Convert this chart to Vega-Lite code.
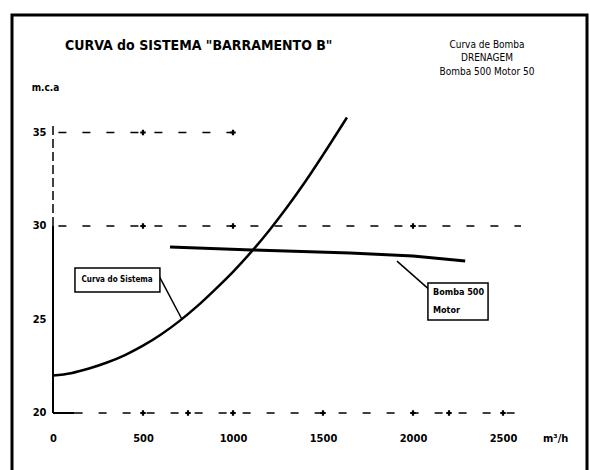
{
  "$schema": "https://vega.github.io/schema/vega-lite/v6.json",
  "width": 575,
  "height": 458,
  "autosize": {"type": "none"},
  "padding": {"left": 12, "top": 15, "right": 3, "bottom": 0},
  "background": "white",
  "config": {
    "view": {"stroke": "black", "strokeWidth": 3},
    "font": "Liberation Sans Narrow, DejaVu Sans Condensed, Liberation Sans"
  },
  "title": {
    "text": "CURVA do SISTEMA \"BARRAMENTO B\"",
    "anchor": "start",
    "frame": "group",
    "offset": -49,
    "dx": 53,
    "baseline": "alphabetic",
    "fontSize": 14,
    "fontWeight": "bold",
    "color": "black"
  },
  "encoding": {
    "x": {
      "field": "q",
      "type": "quantitative",
      "scale": {"domain": [-227.8, 2966.7], "nice": false, "zero": false},
      "axis": {
        "orient": "bottom",
        "offset": -60,
        "values": [0, 500, 1000, 1500, 2000, 2500, 2790],
        "labelExpr": "datum.value > 2600 ? 'm³/h' : format(datum.value, 'd')",
        "domain": false,
        "ticks": false,
        "grid": false,
        "labelPadding": 19,
        "labelFontSize": 11,
        "labelFontWeight": "bold",
        "labelColor": "black",
        "labelFlush": false,
        "labelOverlap": false,
        "title": null
      }
    },
    "y": {
      "field": "h",
      "type": "quantitative",
      "scale": {"domain": [16.791, 41.283], "nice": false, "zero": false},
      "axis": {
        "orient": "left",
        "offset": -41,
        "values": [20, 25, 30, 35],
        "domain": false,
        "ticks": false,
        "grid": false,
        "labelPadding": 7,
        "labelFontSize": 11,
        "labelFontWeight": "bold",
        "labelColor": "black",
        "labelFlush": false,
        "labelOverlap": false,
        "title": "m.c.a",
        "titleAngle": 0,
        "titleX": -8,
        "titleY": 72,
        "titleAlign": "center",
        "titleBaseline": "middle",
        "titleFontSize": 10,
        "titleFontWeight": "bold",
        "titleColor": "black"
      }
    }
  },
  "layer": [
    {
      "data": {"values": [{"q": 0, "h": 20, "h2": 30}]},
      "mark": {"type": "rule", "color": "black", "strokeWidth": 2},
      "encoding": {"y2": {"field": "h2"}}
    },
    {
      "data": {"values": [{"q": 0, "h": 30, "h2": 35.5}]},
      "mark": {"type": "rule", "color": "black", "strokeWidth": 1.5, "strokeDash": [9, 4]},
      "encoding": {"y2": {"field": "h2"}}
    },
    {
      "data": {"values": [{"q": 0, "q2": 120, "h": 20}]},
      "mark": {"type": "rule", "color": "black", "strokeWidth": 2},
      "encoding": {"x2": {"field": "q2"}}
    },
    {
      "data": {"values": [
        {"q": 120, "q2": 2600, "h": 20},
        {"q": 30, "q2": 2600, "h": 30},
        {"q": 30, "q2": 1050, "h": 35}
      ]},
      "mark": {"type": "rule", "color": "black", "strokeWidth": 1.5, "strokeDash": [8, 16]},
      "encoding": {"x2": {"field": "q2"}}
    },
    {
      "data": {"values": [
        {"q": 500, "h": 20}, {"q": 750, "h": 20}, {"q": 1000, "h": 20}, {"q": 1500, "h": 20},
        {"q": 2000, "h": 20}, {"q": 2200, "h": 20}, {"q": 2500, "h": 20},
        {"q": 500, "h": 30}, {"q": 1000, "h": 30}, {"q": 2000, "h": 30},
        {"q": 500, "h": 35}, {"q": 1000, "h": 35}
      ]},
      "mark": {"type": "point", "shape": "cross", "filled": true, "color": "black", "size": 30, "opacity": 1}
    },
    {
      "data": {"values": [
        {"q": 0, "h": 22.0}, {"q": 100, "h": 22.13}, {"q": 200, "h": 22.38},
        {"q": 300, "h": 22.7}, {"q": 400, "h": 23.1}, {"q": 500, "h": 23.6},
        {"q": 600, "h": 24.2}, {"q": 700, "h": 24.9}, {"q": 800, "h": 25.7},
        {"q": 900, "h": 26.6}, {"q": 1000, "h": 27.55}, {"q": 1100, "h": 28.6},
        {"q": 1200, "h": 29.75}, {"q": 1300, "h": 31.0}, {"q": 1400, "h": 32.35},
        {"q": 1500, "h": 33.8}, {"q": 1633, "h": 35.8}
      ]},
      "mark": {"type": "line", "color": "black", "strokeWidth": 2.5, "interpolate": "monotone"}
    },
    {
      "data": {"values": [
        {"q": 650, "h": 28.88}, {"q": 1106, "h": 28.72}, {"q": 1650, "h": 28.56},
        {"q": 2000, "h": 28.4}, {"q": 2290, "h": 28.13}
      ]},
      "mark": {"type": "line", "color": "black", "strokeWidth": 3}
    },
    {
      "data": {"values": [
        {"q": 578, "h": 27.53, "q2": 717, "h2": 25.0},
        {"q": 1911, "h": 28.12, "q2": 2094, "h2": 26.57}
      ]},
      "mark": {"type": "rule", "color": "black", "strokeWidth": 1.5},
      "encoding": {"x2": {"field": "q2"}, "y2": {"field": "h2"}}
    },
    {
      "data": {"values": [
        {"q": 122, "q2": 594, "h": 26.47, "h2": 27.75},
        {"q": 2083, "q2": 2417, "h": 24.97, "h2": 26.95}
      ]},
      "mark": {"type": "rect", "fill": "white", "stroke": "black", "strokeWidth": 1.5},
      "encoding": {"x2": {"field": "q2"}, "y2": {"field": "h2"}}
    },
    {
      "data": {"values": [
        {"q": 356, "h": 27.1, "text": "Curva do Sistema"}
      ]},
      "mark": {"type": "text", "align": "center", "baseline": "middle", "fontSize": 8, "fontWeight": "bold", "color": "black"},
      "encoding": {"text": {"field": "text"}}
    },
    {
      "data": {"values": [
        {"q": 2111, "h": 26.46, "text": "Bomba 500"},
        {"q": 2111, "h": 25.5, "text": "Motor"}
      ]},
      "mark": {"type": "text", "align": "left", "baseline": "middle", "fontSize": 9, "fontWeight": "bold", "color": "black"},
      "encoding": {"text": {"field": "text"}}
    },
    {
      "data": {"values": [
        {"q": 2411, "h": 39.7, "text": "Curva de Bomba"},
        {"q": 2411, "h": 39.01, "text": "DRENAGEM"},
        {"q": 2411, "h": 38.26, "text": "Bomba 500 Motor 50"}
      ]},
      "mark": {"type": "text", "align": "center", "baseline": "middle", "fontSize": 10, "color": "black"},
      "encoding": {"text": {"field": "text"}}
    }
  ]
}
